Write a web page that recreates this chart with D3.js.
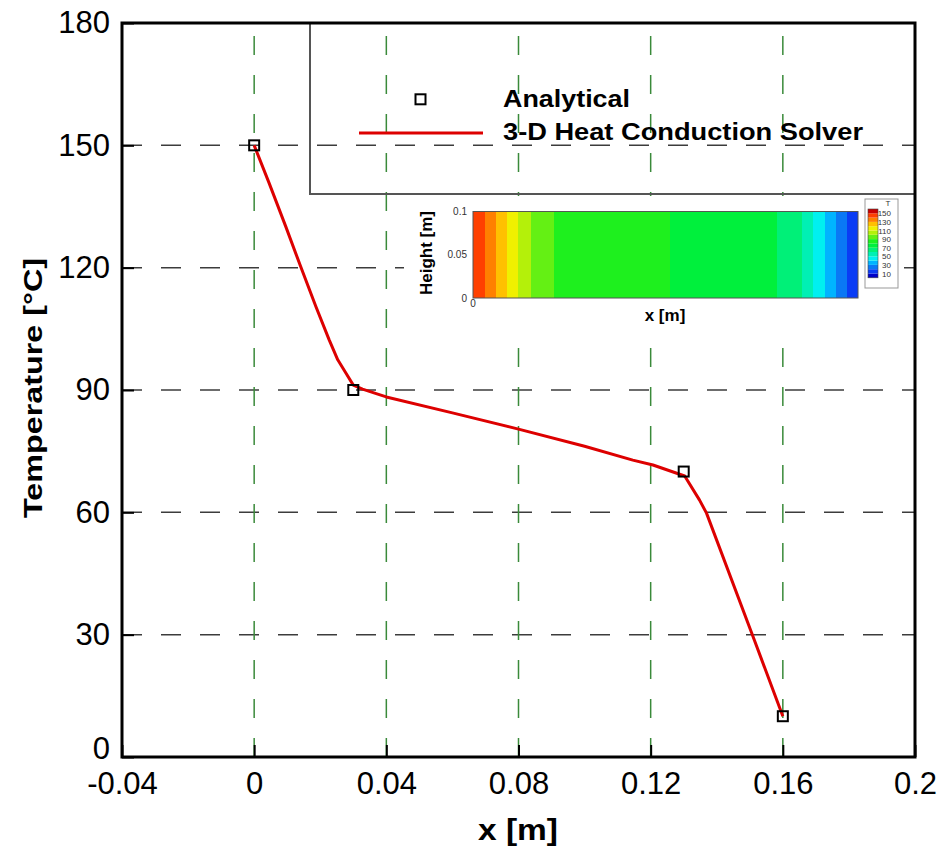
<!DOCTYPE html>
<html>
<head>
<meta charset="utf-8">
<script src="https://cdn.jsdelivr.net/npm/d3@7"></script>
<style>
  html, body { margin: 0; padding: 0; background: #fff; }
  svg { display: block; font-family: "Liberation Sans", Arial, sans-serif; }
</style>
</head>
<body>
<svg id="chart" width="948" height="847"></svg>
<script>
// ---------------- data ----------------
const xTicks = [-0.04, 0, 0.04, 0.08, 0.12, 0.16, 0.2];
const xTickLabels = ["-0.04", "0", "0.04", "0.08", "0.12", "0.16", "0.2"];
const yTicks = [0, 30, 60, 90, 120, 150, 180];
const yTickLabels = ["0", "30", "60", "90", "120", "150", "180"];

const analyticalX = [0, 0.03, 0.13, 0.16];
const analyticalT = [150, 90, 70, 10];

const solverX = [0, 0.0045, 0.0096, 0.0141, 0.0187, 0.0227, 0.0253, 0.0278, 0.030, 0.0328, 0.0374,
                 0.04, 0.06, 0.08, 0.10, 0.1146, 0.1207, 0.1303, 0.1348, 0.1369, 0.151, 0.16];
const solverT = [150, 140.8, 130, 120.2, 110.4, 102.3, 97.4, 94.1, 91.2, 90.2, 89,
                 88.3, 84.4, 80.4, 76.2, 72.8, 71.6, 68.9, 63, 59.8, 29.5, 10];

const seriesNames = ["Analytical", "3-D Heat Conduction Solver"];

// contour levels / colours of the inset (Tecplot-like rainbow)
const contourThresholds = [10, 20, 30, 40, 50, 60, 70, 80, 90, 100, 110, 120, 130, 140, 150];
const contourColors = ["#0000c8", "#0a3cf5", "#0a78f5", "#00b4ff", "#00f0f0", "#00f0b4", "#00f078",
                       "#00f03c", "#1ef01e", "#64f014", "#b4f00a", "#f0f000", "#ffc000", "#ff8000",
                       "#ff4000", "#c80000"];
const colorbarLevels = [0, 10, 20, 30, 40, 50, 60, 70, 80, 90, 100, 110, 120, 130, 140, 150, 160];
const colorbarLabels = [150, 130, 110, 90, 70, 50, 30, 10];
const insetXDomain = [0, 0.16];
const insetHeightTicks = [0, 0.05, 0.1];
const insetHeightLabels = ["0", "0.05", "0.1"];

// ---------------- setup ----------------
const svg = d3.select("#chart");
const L = 122, R = 915, T = 23, B = 757;
const x = d3.scaleLinear().domain([-0.04, 0.2]).range([L, R]);
const y = d3.scaleLinear().domain([0, 180]).range([B, T]);

// grid
const grid = svg.append("g");
grid.selectAll("line.h").data(yTicks.slice(1, -1)).join("line")
  .attr("x1", L).attr("x2", R)
  .attr("y1", d => y(d)).attr("y2", d => y(d))
  .attr("stroke", "#3c3c3c").attr("stroke-width", 1.5)
  .attr("stroke-dasharray", "20,19");
grid.selectAll("line.v").data(xTicks.slice(1, -1)).join("line")
  .attr("x1", d => x(d)).attr("x2", d => x(d))
  .attr("y1", B).attr("y2", T)
  .attr("stroke", "#3a8a3a").attr("stroke-width", 1.5)
  .attr("stroke-dasharray", "19,20");

// ---------------- inset ----------------
const inset = svg.append("g");
inset.append("rect").attr("x", 404).attr("y", 196).attr("width", 500).attr("height", 134).attr("fill", "#fff");

const ix = d3.scaleLinear().domain(insetXDomain).range([473, 858]);
const iy = d3.scaleLinear().domain([0, 0.1]).range([298, 211.5]);
const color = d3.scaleThreshold().domain(contourThresholds).range(contourColors);

const bis = d3.bisector(d => d).right;
function tempAt(xv) {
  let i = bis(solverX, xv);
  if (i <= 0) return solverT[0];
  if (i >= solverX.length) return solverT[solverT.length - 1];
  const t = (xv - solverX[i - 1]) / (solverX[i] - solverX[i - 1]);
  return solverT[i - 1] + t * (solverT[i] - solverT[i - 1]);
}
const cols = d3.range(Math.round(ix.range()[0]), Math.round(ix.range()[1]));
inset.append("g").attr("shape-rendering", "crispEdges")
  .selectAll("rect").data(cols).join("rect")
  .attr("x", d => d).attr("width", 1.05)
  .attr("y", iy(0.1)).attr("height", iy(0) - iy(0.1))
  .attr("fill", d => color(tempAt(ix.invert(d + 0.5))));
inset.append("rect")
  .attr("x", ix(0)).attr("y", iy(0.1))
  .attr("width", ix(0.16) - ix(0)).attr("height", iy(0) - iy(0.1))
  .attr("fill", "none").attr("stroke", "#555").attr("stroke-width", 1);

inset.selectAll("text.ht").data(insetHeightTicks).join("text")
  .attr("x", 467).attr("y", d => iy(d) + 3.5)
  .attr("text-anchor", "end").attr("font-size", 10).attr("fill", "#333")
  .text((d, i) => insetHeightLabels[i]);
inset.append("text").attr("x", ix(0)).attr("y", 307)
  .attr("text-anchor", "middle").attr("font-size", 10).attr("fill", "#333").text("0");
inset.append("text")
  .attr("transform", "translate(432,253) rotate(-90)")
  .attr("text-anchor", "middle").attr("font-size", 17).attr("font-weight", "bold")
  .text("Height [m]");
inset.append("text").attr("x", 665).attr("y", 321)
  .attr("text-anchor", "middle").attr("font-size", 17).attr("font-weight", "bold")
  .text("x [m]");

// colorbar
const cb = inset.append("g");
cb.append("rect").attr("x", 865).attr("y", 199).attr("width", 33).attr("height", 89)
  .attr("fill", "#fff").attr("stroke", "#999").attr("stroke-width", 1);
const cy = d3.scaleLinear().domain([0, 160]).range([277.8, 209]);
cb.selectAll("rect.band").data(colorbarLevels.slice(0, -1)).join("rect")
  .attr("x", 868).attr("width", 10)
  .attr("y", (d, i) => cy(colorbarLevels[i + 1]))
  .attr("height", (d, i) => cy(d) - cy(colorbarLevels[i + 1]))
  .attr("fill", d => color(d + 5));
cb.append("rect").attr("x", 868).attr("y", cy(160)).attr("width", 10).attr("height", cy(0) - cy(160))
  .attr("fill", "none").attr("stroke", "#444").attr("stroke-width", 0.6);
cb.selectAll("text.cl").data(colorbarLabels).join("text")
  .attr("x", 891).attr("y", d => cy(d) + 3)
  .attr("text-anchor", "end").attr("font-size", 8).attr("fill", "#333")
  .text(d => d);
cb.append("text").attr("x", 888).attr("y", 206).attr("text-anchor", "middle")
  .attr("font-size", 8).attr("fill", "#333").text("T");

// ---------------- legend ----------------
const leg = svg.append("g");
leg.append("rect").attr("x", 310).attr("y", T).attr("width", R - 310).attr("height", 194 - T)
  .attr("fill", "none").attr("stroke", "#555").attr("stroke-width", 2);
leg.append("rect").attr("x", 420.5 - 5).attr("y", 99.3 - 5).attr("width", 10).attr("height", 10)
  .attr("fill", "none").attr("stroke", "#000").attr("stroke-width", 2);
leg.append("line").attr("x1", 359).attr("x2", 483).attr("y1", 133).attr("y2", 133)
  .attr("stroke", "#dd0000").attr("stroke-width", 3);
leg.append("text").attr("x", 503).attr("y", 107).attr("font-size", 24).attr("font-weight", "bold")
  .attr("textLength", 127).attr("lengthAdjust", "spacingAndGlyphs").text(seriesNames[0]);
leg.append("text").attr("x", 503).attr("y", 140).attr("font-size", 24).attr("font-weight", "bold")
  .attr("textLength", 360).attr("lengthAdjust", "spacingAndGlyphs").text(seriesNames[1]);

// ---------------- data ----------------
const solver = solverX.map((v, i) => [v, solverT[i]]);
svg.append("path").datum(solver)
  .attr("d", d3.line().x(d => x(d[0])).y(d => y(d[1])))
  .attr("fill", "none").attr("stroke", "#dd0000").attr("stroke-width", 3)
  .attr("stroke-linejoin", "round");
svg.selectAll("rect.pt").data(analyticalX).join("rect")
  .attr("x", d => x(d) - 5).attr("y", (d, i) => y(analyticalT[i]) - 5)
  .attr("width", 10).attr("height", 10)
  .attr("fill", "none").attr("stroke", "#000").attr("stroke-width", 2);

// ---------------- axes / frame ----------------
const xAxis = svg.append("g").attr("transform", `translate(0,${B})`)
  .call(d3.axisBottom(x).tickValues(xTicks).tickSize(-12).tickPadding(15)
    .tickFormat((d, i) => xTickLabels[i]));
const yAxis = svg.append("g").attr("transform", `translate(${L},0)`)
  .call(d3.axisLeft(y).tickValues(yTicks).tickSize(-12).tickPadding(12)
    .tickFormat((d, i) => yTickLabels[i]));
[xAxis, yAxis].forEach(a => {
  a.select(".domain").remove();
  a.selectAll(".tick line").attr("stroke", "#000").attr("stroke-width", 2);
  a.selectAll(".tick text").attr("font-size", 31).attr("fill", "#000")
    .attr("font-family", "Liberation Sans, Arial, sans-serif");
});
// lift the y "0" label slightly so it does not collide with "-0.04"
yAxis.selectAll(".tick text").filter(d => d === 0).attr("dy", "0.05em");
svg.append("rect").attr("x", L).attr("y", T).attr("width", R - L).attr("height", B - T)
  .attr("fill", "none").attr("stroke", "#000").attr("stroke-width", 3);

svg.append("text").attr("x", (L + R) / 2 - 0.5).attr("y", 840)
  .attr("text-anchor", "middle").attr("font-size", 30).attr("font-weight", "bold")
  .attr("textLength", 80).attr("lengthAdjust", "spacingAndGlyphs")
  .text("x [m]");
svg.append("text").attr("transform", "translate(42,388) rotate(-90)")
  .attr("text-anchor", "middle").attr("font-size", 25).attr("font-weight", "bold")
  .attr("textLength", 260).attr("lengthAdjust", "spacingAndGlyphs")
  .text("Temperature [°C]");
</script>
</body>
</html>
